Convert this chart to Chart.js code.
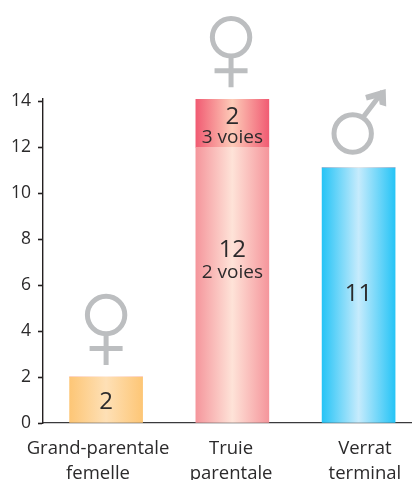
<!DOCTYPE html>
<html lang="fr">
<head>
    <meta charset="UTF-8">
    <title>Truie parentale</title>
    <script src="https://cdn.jsdelivr.net/npm/chart.js"></script>
    <style>
        html, body { margin: 0; padding: 0; background: #fff; overflow: hidden; }
        #wrap { width: 412px; height: 480px; }
    </style>
</head>
<body>
    <div id="wrap"><canvas id="chart"></canvas></div>
    <script>
        const categories = [['Grand-parentale', 'femelle'], ['Truie', 'parentale'], ['Verrat', 'terminal']];
        const barIndex = [0, 1, 2];
        const lowerValues = [2, 12, 11.1];
        const upperValues = [0, 2.1, 0];
        const yTicks = [0, 2, 4, 6, 8, 10, 12, 14];
        // libellés de l'axe : légèrement décalés par rapport aux barres
        const labelAt = [-0.064, 0.99, 2.05];

        // textes dans les barres : [indice, valeur y, texte, taille]
        const notes = [
            [0, 0.9, '2', 24],
            [1, 13.3, '2', 24],
            [1, 12.4, '3 voies', 19],
            [1, 7.52, '12', 24],
            [1, 6.53, '2 voies', 19],
            [2, 5.6, '11', 24]
        ];

        const FONT = '"Open Sans", sans-serif';
        const TEXT = '#2b2a2b';
        const GREY = '#bcbec0';

        function gradient(ctx, edge, mid) {
            const chart = ctx.chart;
            if (!chart.chartArea) return edge;
            const x = chart.scales.x.getPixelForValue(barIndex[ctx.dataIndex]);
            if (!isFinite(x)) return edge;
            const g = chart.ctx.createLinearGradient(x - 36.5, 0, x + 36.5, 0);
            g.addColorStop(0, edge);
            g.addColorStop(0.5, mid);
            g.addColorStop(1, edge);
            return g;
        }

        function femaleSign(c, x, y) {
            c.beginPath();
            c.arc(x, y, 18.7, 0, Math.PI * 2);
            c.moveTo(x, y + 21);
            c.lineTo(x, y + 50);
            c.moveTo(x - 16.5, y + 33.5);
            c.lineTo(x + 16.5, y + 33.5);
            c.stroke();
        }

        function maleSign(c, x, y) {
            c.beginPath();
            c.arc(x, y, 18.7, 0, Math.PI * 2);
            c.moveTo(x + 11, y - 17);
            c.lineTo(x + 30, y - 42);
            c.stroke();
            c.beginPath();
            c.moveTo(x + 12.5, y - 38.5);
            c.lineTo(x + 33, y - 44.5);
            c.lineTo(x + 33.5, y - 27);
            c.lineTo(x + 27, y - 29);
            c.lineTo(x + 26, y - 36);
            c.lineTo(x + 14, y - 33);
            c.closePath();
            c.fill();
        }

        const overlay = {
            id: 'overlay',
            afterDatasetsDraw(chart) {
                const c = chart.ctx;
                const xs = chart.scales.x, ys = chart.scales.y;
                c.save();
                c.fillStyle = TEXT;
                c.textAlign = 'center';
                c.textBaseline = 'middle';
                notes.forEach(n => {
                    c.font = n[3] + 'px ' + FONT;
                    c.fillText(n[2], xs.getPixelForValue(n[0]), ys.getPixelForValue(n[1]));
                });
                // symboles mâle / femelle
                c.strokeStyle = GREY;
                c.fillStyle = GREY;
                c.lineWidth = 5;
                femaleSign(c, xs.getPixelForValue(0), ys.getPixelForValue(2) - 62);
                femaleSign(c, xs.getPixelForValue(1) - 1.3, ys.getPixelForValue(14) - 64);
                maleSign(c, xs.getPixelForValue(2) - 5.9, ys.getPixelForValue(11) - 36.7);
                c.restore();
            }
        };

        new Chart(document.getElementById('chart'), {
            type: 'bar',
            data: {
                datasets: [
                    {
                        data: barIndex.map(i => ({ x: i, y: lowerValues[i] })),
                        backgroundColor: ctx => {
                            if (ctx.type !== 'data') return '#ccc';
                            if (ctx.dataIndex === 0) return gradient(ctx, '#fdc676', '#fee0b6');
                            if (ctx.dataIndex === 1) return gradient(ctx, '#f5969c', '#fee3d8');
                            return gradient(ctx, '#26c4f6', '#c6ebfc');
                        },
                        barThickness: 73,
                        borderWidth: 0
                    },
                    {
                        data: barIndex.map(i => ({ x: i, y: upperValues[i] })),
                        backgroundColor: ctx => ctx.type !== 'data' ? '#ccc' : gradient(ctx, '#f15c73', '#fdcbb8'),
                        barThickness: 73,
                        borderWidth: 0
                    }
                ]
            },
            options: {
                responsive: true,
                maintainAspectRatio: false,
                animation: false,
                layout: { padding: { top: 99, left: 0, right: 0, bottom: 0 } },
                plugins: { legend: { display: false }, tooltip: { enabled: false } },
                scales: {
                    x: {
                        type: 'linear',
                        stacked: true,
                        offset: false,
                        min: -0.4998,
                        max: 2.423,
                        afterBuildTicks: scale => { scale.ticks = labelAt.map(v => ({ value: v })); },
                        afterFit: scale => {
                            scale.height = 57;
                            // le dernier libellé ne doit pas rétrécir la zone du graphique
                            scale.paddingLeft = 0;
                            scale.paddingRight = 0;
                        },
                        grid: { offset: false, drawOnChartArea: false, drawTicks: false },
                        border: { color: '#3a3a3c', width: 1.2 },
                        ticks: {
                            autoSkip: false,
                            maxRotation: 0,
                            padding: 13,
                            color: TEXT,
                            font: { family: FONT, size: 18.5, lineHeight: 1.36 },
                            callback: (v, i) => categories[i]
                        }
                    },
                    y: {
                        stacked: true,
                        min: 0,
                        max: 14.1,
                        afterBuildTicks: scale => { scale.ticks = yTicks.map(v => ({ value: v })); },
                        afterFit: scale => { scale.width = 43; },
                        grid: { drawOnChartArea: false, drawTicks: true, tickLength: 5, tickColor: '#231f20', tickWidth: 1.6 },
                        border: { color: '#231f20', width: 1.4 },
                        ticks: {
                            padding: 7,
                            color: TEXT,
                            font: { family: FONT, size: 17.5 }
                        }
                    }
                }
            },
            plugins: [overlay]
        });
    </script>
</body>
</html>
